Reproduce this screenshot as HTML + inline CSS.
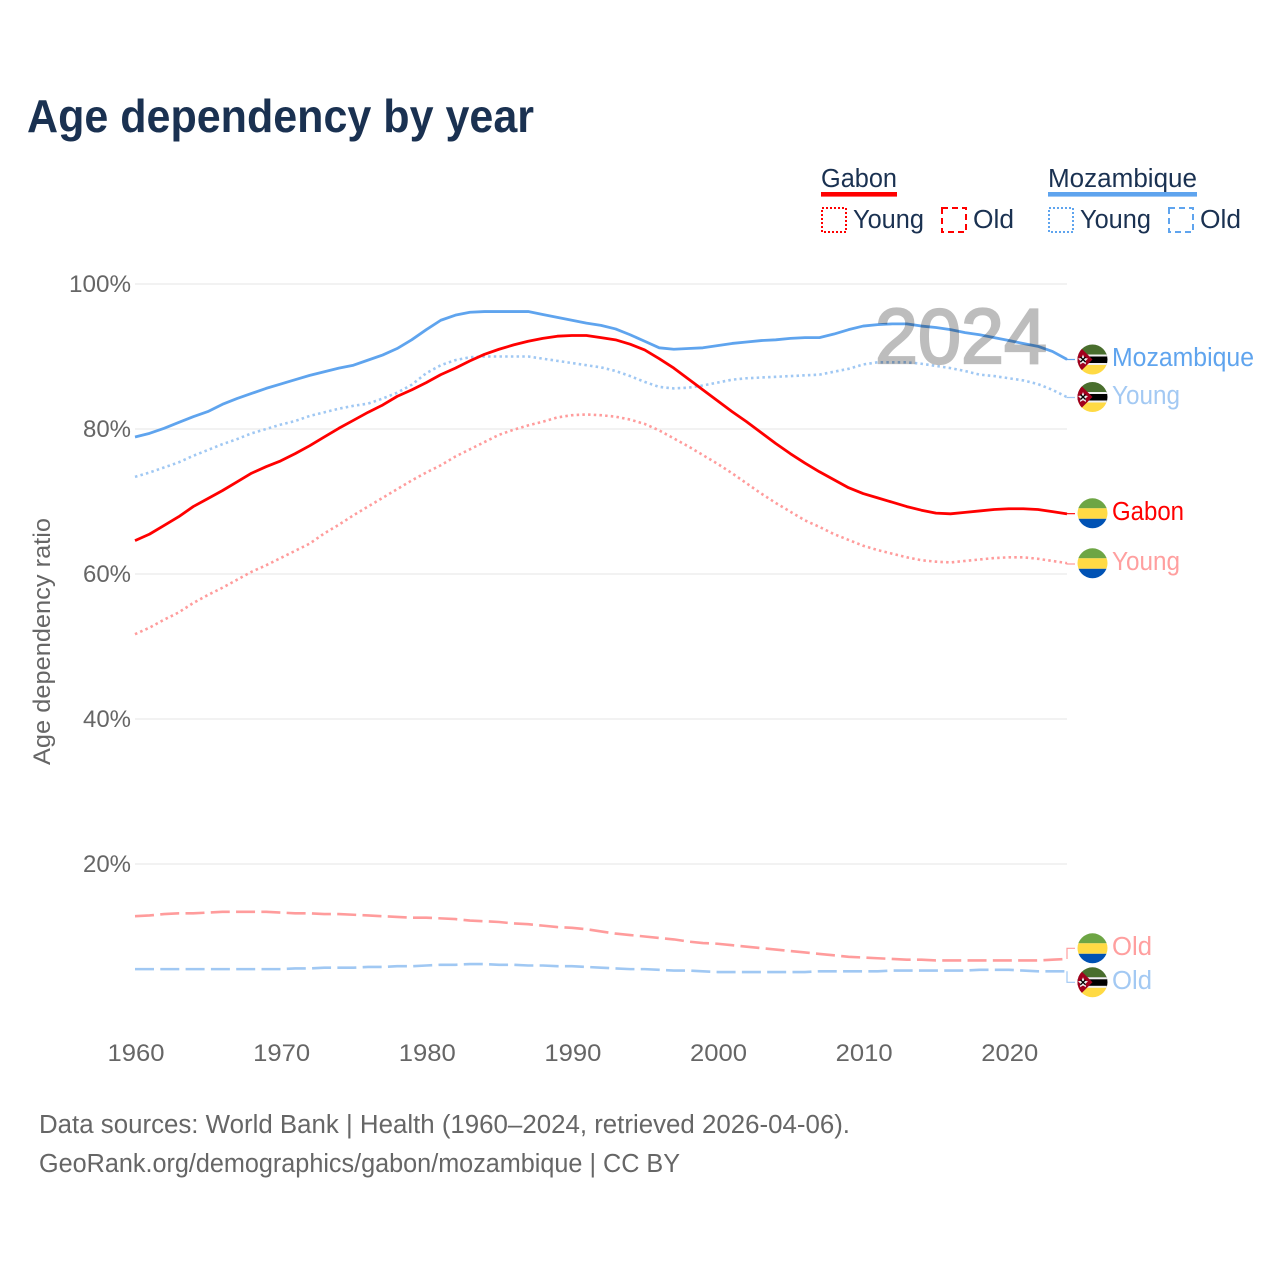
<!DOCTYPE html>
<html lang="en">
<head>
<meta charset="utf-8">
<title>Age dependency by year</title>
<style>
html,body{margin:0;padding:0;background:#fff;width:1280px;height:1280px;overflow:hidden}
svg{display:block;font-family:"Liberation Sans",sans-serif}
.tick{font-size:24.5px;fill:#666}
.legend{font-size:25.5px;fill:#1a3151}
.endlabel{font-size:25.5px}
.source{font-size:25.5px;fill:#666}
</style>
</head>
<body>
<svg id="chart" xmlns="http://www.w3.org/2000/svg" width="1280" height="1280" viewBox="0 0 1280 1280">
  <defs>
    <clipPath id="flag-clip"><circle cx="0" cy="0" r="15"></circle></clipPath>
    <g id="flag-gabon" clip-path="url(#flag-clip)">
      <rect x="-16" y="-16" width="32" height="11" fill="#6DA544"></rect>
      <rect x="-16" y="-5" width="32" height="10.5" fill="#FFDA44"></rect>
      <rect x="-16" y="5.5" width="32" height="11" fill="#0052B4"></rect>
    </g>
    <g id="flag-mozambique" clip-path="url(#flag-clip)">
      <rect x="-16" y="-16" width="32" height="11" fill="#496E2D"></rect>
      <rect x="-16" y="-5" width="32" height="10" fill="#000"></rect>
      <rect x="-16" y="-5" width="32" height="2" fill="#f0f0f0"></rect>
      <rect x="-16" y="3.5" width="32" height="2" fill="#f0f0f0"></rect>
      <rect x="-16" y="5.5" width="32" height="11" fill="#FFDA44"></rect>
      <polygon points="-15,-15 0,0 -15,15" fill="#A2001D"></polygon>
      <polygon points="-9.5,-5 -8,-1.5 -4.5,-1 -7,1.5 -6.5,5 -9.5,3.2 -12.5,5 -12,1.5 -14.5,-1 -11,-1.5" fill="#f0f0f0"></polygon>
      <path d="M-12,-2.5 L-7,2.5 M-7,-2.5 L-12,2.5" stroke="#000" stroke-width="1.3"></path>
    </g>
  </defs>

  <rect x="0" y="0" width="1280" height="1280" fill="#fff"></rect>

  <text x="27" y="132" font-size="46" font-weight="700" fill="#1a3151" textLength="507" lengthAdjust="spacingAndGlyphs">Age dependency by year</text>

  <g>
    <g>
      <text class="legend" x="821" y="187" textLength="76" lengthAdjust="spacingAndGlyphs">Gabon</text>
      <rect x="821" y="192" width="76" height="4.6" fill="#ff0000"></rect>
      <rect x="822" y="208" width="24" height="24" fill="none" stroke="#ff0000" stroke-width="2" stroke-dasharray="2 2"></rect>
      <text class="legend" x="853" y="228" textLength="71" lengthAdjust="spacingAndGlyphs">Young</text>
      <rect x="942" y="208" width="24" height="24" fill="none" stroke="#ff0000" stroke-width="2" stroke-dasharray="6 4"></rect>
      <text class="legend" x="973" y="228" textLength="41" lengthAdjust="spacingAndGlyphs">Old</text>
    </g>
    <g>
      <text class="legend" x="1048" y="187" textLength="149" lengthAdjust="spacingAndGlyphs">Mozambique</text>
      <rect x="1048" y="192" width="149" height="4.6" fill="#5fa4ee"></rect>
      <rect x="1049" y="208" width="24" height="24" fill="none" stroke="#5fa4ee" stroke-width="2" stroke-dasharray="2 2"></rect>
      <text class="legend" x="1080" y="228" textLength="71" lengthAdjust="spacingAndGlyphs">Young</text>
      <rect x="1169" y="208" width="24" height="24" fill="none" stroke="#5fa4ee" stroke-width="2" stroke-dasharray="6 4"></rect>
      <text class="legend" x="1200" y="228" textLength="41" lengthAdjust="spacingAndGlyphs">Old</text>
    </g>
  </g>

  <g id="grid"></g>
  <g id="yticks"></g>
  <g id="xticks"></g>
  <text x="0" y="0" transform="translate(50,765) rotate(-90)" font-size="24.5" fill="#666" textLength="247" lengthAdjust="spacingAndGlyphs">Age dependency ratio</text>

  <g id="series"></g>

  <text x="875" y="363" font-size="78" font-weight="400" fill="#bdbdbd" stroke="#bdbdbd" stroke-width="2.2" style="mix-blend-mode:multiply" textLength="172" lengthAdjust="spacingAndGlyphs">2024</text>

  <g>
    <use href="#flag-mozambique" x="1092.5" y="359.5"></use>
    <text class="endlabel" x="1112" y="366" fill="#5fa4ee" textLength="142" lengthAdjust="spacingAndGlyphs">Mozambique</text>
    <use href="#flag-mozambique" x="1092.5" y="397"></use>
    <text class="endlabel" x="1112" y="404" fill="#a3c9f3" textLength="68" lengthAdjust="spacingAndGlyphs">Young</text>
    <use href="#flag-gabon" x="1092.5" y="513.3"></use>
    <text class="endlabel" x="1112" y="520" fill="#ff0000" textLength="72" lengthAdjust="spacingAndGlyphs">Gabon</text>
    <use href="#flag-gabon" x="1092.5" y="563.3"></use>
    <text class="endlabel" x="1112" y="570" fill="#ff9f9f" textLength="68" lengthAdjust="spacingAndGlyphs">Young</text>
    <use href="#flag-gabon" x="1092.5" y="948.3"></use>
    <text class="endlabel" x="1112" y="955" fill="#ff9f9f" textLength="40" lengthAdjust="spacingAndGlyphs">Old</text>
    <use href="#flag-mozambique" x="1092.5" y="982.3"></use>
    <text class="endlabel" x="1112" y="989" fill="#a3c9f3" textLength="40" lengthAdjust="spacingAndGlyphs">Old</text>
  </g>

  <text class="source" x="39" y="1133" textLength="811" lengthAdjust="spacingAndGlyphs">Data sources: World Bank | Health (1960–2024, retrieved 2026-04-06).</text>
  <text class="source" x="39" y="1172" textLength="641" lengthAdjust="spacingAndGlyphs">GeoRank.org/demographics/gabon/mozambique | CC BY</text>
</svg>

<script>
const years = [
  1960,1961,1962,1963,1964,1965,1966,1967,1968,1969,
  1970,1971,1972,1973,1974,1975,1976,1977,1978,1979,
  1980,1981,1982,1983,1984,1985,1986,1987,1988,1989,
  1990,1991,1992,1993,1994,1995,1996,1997,1998,1999,
  2000,2001,2002,2003,2004,2005,2006,2007,2008,2009,
  2010,2011,2012,2013,2014,2015,2016,2017,2018,2019,
  2020,2021,2022,2023,2024
];
const mozambiqueTotal = [
  78.9,79.4,80.1,80.9,81.7,82.4,83.4,84.2,84.9,85.6,
  86.2,86.8,87.4,87.9,88.4,88.8,89.5,90.2,91.1,92.3,
  93.7,95.0,95.7,96.1,96.2,96.2,96.2,96.2,95.8,95.4,
  95.0,94.6,94.3,93.8,93.0,92.1,91.2,91.0,91.1,91.2,
  91.5,91.8,92.0,92.2,92.3,92.5,92.6,92.6,93.1,93.7,
  94.2,94.4,94.5,94.5,94.2,94.0,93.7,93.3,93.0,92.6,
  92.2,91.8,91.4,90.7,89.6
];
const mozambiqueYoung = [
  73.4,74.0,74.7,75.4,76.3,77.1,77.9,78.6,79.4,80.0,
  80.6,81.1,81.8,82.3,82.8,83.2,83.5,84.2,85.0,86.1,
  87.7,88.8,89.5,89.9,90.0,90.0,90.0,90.0,89.7,89.4,
  89.1,88.8,88.5,88.0,87.3,86.5,85.8,85.6,85.7,86.0,
  86.4,86.8,87.0,87.1,87.2,87.3,87.4,87.5,87.9,88.3,
  88.9,89.2,89.2,89.2,89.0,88.7,88.4,88.0,87.5,87.3,
  87.0,86.7,86.2,85.4,84.4
];
const mozambiqueOld = [
  5.5,5.5,5.5,5.5,5.5,5.5,5.5,5.5,5.5,5.5,
  5.5,5.6,5.6,5.7,5.7,5.7,5.8,5.8,5.9,5.9,
  6.0,6.1,6.1,6.2,6.2,6.1,6.1,6.0,6.0,5.9,
  5.9,5.8,5.7,5.6,5.5,5.5,5.4,5.3,5.3,5.2,
  5.1,5.1,5.1,5.1,5.1,5.1,5.1,5.2,5.2,5.2,
  5.2,5.2,5.3,5.3,5.3,5.3,5.3,5.3,5.4,5.4,
  5.4,5.3,5.2,5.2,5.2
];
const gabonTotal = [
  64.6,65.5,66.7,67.9,69.3,70.4,71.5,72.7,73.9,74.8,
  75.6,76.6,77.7,78.9,80.1,81.2,82.3,83.3,84.5,85.4,
  86.4,87.5,88.4,89.4,90.3,91.0,91.6,92.1,92.5,92.8,
  92.9,92.9,92.6,92.3,91.7,90.9,89.7,88.4,86.9,85.4,
  83.9,82.4,81.0,79.5,78.0,76.6,75.3,74.1,73.0,71.9,
  71.1,70.5,69.9,69.3,68.8,68.4,68.3,68.5,68.7,68.9,
  69.0,69.0,68.9,68.6,68.3
];
const gabonYoung = [
  51.7,52.6,53.7,54.7,56.0,57.1,58.1,59.2,60.3,61.2,
  62.2,63.2,64.2,65.6,66.8,68.1,69.3,70.5,71.7,72.9,
  74.0,75.0,76.2,77.2,78.2,79.2,79.9,80.5,81.0,81.6,
  81.9,82.0,81.9,81.7,81.3,80.7,79.8,78.7,77.6,76.4,
  75.2,73.9,72.5,71.1,69.8,68.6,67.4,66.5,65.5,64.7,
  63.9,63.3,62.8,62.3,61.9,61.7,61.6,61.8,62.0,62.2,
  62.3,62.3,62.1,61.8,61.5
];
const gabonOld = [
  12.8,12.9,13.1,13.2,13.2,13.3,13.4,13.4,13.4,13.4,
  13.3,13.2,13.2,13.1,13.1,13.0,12.9,12.8,12.7,12.6,
  12.6,12.5,12.4,12.2,12.1,12.0,11.8,11.7,11.5,11.3,
  11.2,11.0,10.7,10.4,10.2,10.0,9.8,9.6,9.3,9.1,
  9.0,8.8,8.6,8.4,8.2,8.0,7.8,7.6,7.4,7.2,
  7.1,7.0,6.9,6.8,6.8,6.7,6.7,6.7,6.7,6.7,
  6.7,6.7,6.7,6.8,6.9
];
const yTickValues = [20,40,60,80,100];
const xTickValues = [1960,1970,1980,1990,2000,2010,2020];

const SVGNS = 'http://www.w3.org/2000/svg';
function xScale(year){ return 135 + (year - 1960) * (932 / 64); }
function yScale(v){ return 1009 - v * 7.25; }

const gridGroup = document.getElementById('grid');
const yTickGroup = document.getElementById('yticks');
const xTickGroup = document.getElementById('xticks');
const seriesGroup = document.getElementById('series');

yTickValues.forEach(function(v){
  const line = document.createElementNS(SVGNS,'line');
  
  
  line.setAttribute('x1', xScale(1960));
  line.setAttribute('x2', xScale(2024));
  line.setAttribute('y1', yScale(v));
  line.setAttribute('y2', yScale(v));
  line.setAttribute('stroke', '#eeeeee');
  line.setAttribute('stroke-width', '1.5');
  gridGroup.appendChild(line);

  const label = document.createElementNS(SVGNS,'text');
  
  
  label.setAttribute('class', 'tick');
  label.setAttribute('x', 131);
  label.setAttribute('y', yScale(v) + 8);
  label.setAttribute('text-anchor', 'end');
  label.setAttribute('textLength', v === 100 ? 62 : 48);
  label.setAttribute('lengthAdjust', 'spacingAndGlyphs');
  label.textContent = v + '%';
  yTickGroup.appendChild(label);
});

xTickValues.forEach(function(t){
  const label = document.createElementNS(SVGNS,'text');
  
  
  label.setAttribute('class', 'tick');
  label.setAttribute('x', xScale(t) + 1);
  label.setAttribute('y', 1061);
  label.setAttribute('text-anchor', 'middle');
  label.setAttribute('textLength', 57);
  label.setAttribute('lengthAdjust', 'spacingAndGlyphs');
  label.textContent = t;
  xTickGroup.appendChild(label);
});

function drawSeries(values, name, color, width, dash, labelY, connectorColor){
  const d = values.map(function(v,i){
    return (i ? 'L' : 'M') + xScale(years[i]).toFixed(2) + ',' + yScale(v).toFixed(2);
  }).join(' ');
  const path = document.createElementNS(SVGNS,'path');
  
  
  path.setAttribute('d', d);
  path.setAttribute('fill', 'none');
  path.setAttribute('stroke', color);
  path.setAttribute('stroke-width', width);
  path.setAttribute('stroke-linejoin', 'round');
  if (dash) path.setAttribute('stroke-dasharray', dash);
  seriesGroup.appendChild(path);

  const lastX = xScale(years[years.length - 1]);
  const lastY = yScale(values[values.length - 1]);
  const connector = document.createElementNS(SVGNS,'path');
  
  
  connector.setAttribute('d', 'M' + lastX + ',' + lastY + ' V' + labelY + ' H1075');
  connector.setAttribute('fill', 'none');
  connector.setAttribute('stroke', connectorColor);
  connector.setAttribute('stroke-width', '1.2');
  seriesGroup.appendChild(connector);
}

drawSeries(gabonOld, 'gabon-old', '#ff9c9c', 2.6, '19 6.3', 948.3, '#ff9c9c');
drawSeries(mozambiqueOld, 'mozambique-old', '#a0c8f3', 2.6, '19 6.3', 982.3, '#a0c8f3');
drawSeries(gabonYoung, 'gabon-young', '#ff9c9c', 2.6, '2.5 3.2', 564, '#ff9c9c');
drawSeries(mozambiqueYoung, 'mozambique-young', '#a0c8f3', 2.6, '2.5 3.2', 397.5, '#a0c8f3');
drawSeries(mozambiqueTotal, 'mozambique-total', '#5fa4ee', 2.8, '', 359.5, '#5fa4ee');
drawSeries(gabonTotal, 'gabon-total', '#ff0000', 2.8, '', 513.7, '#ff0000');
</script>
</body>
</html>
